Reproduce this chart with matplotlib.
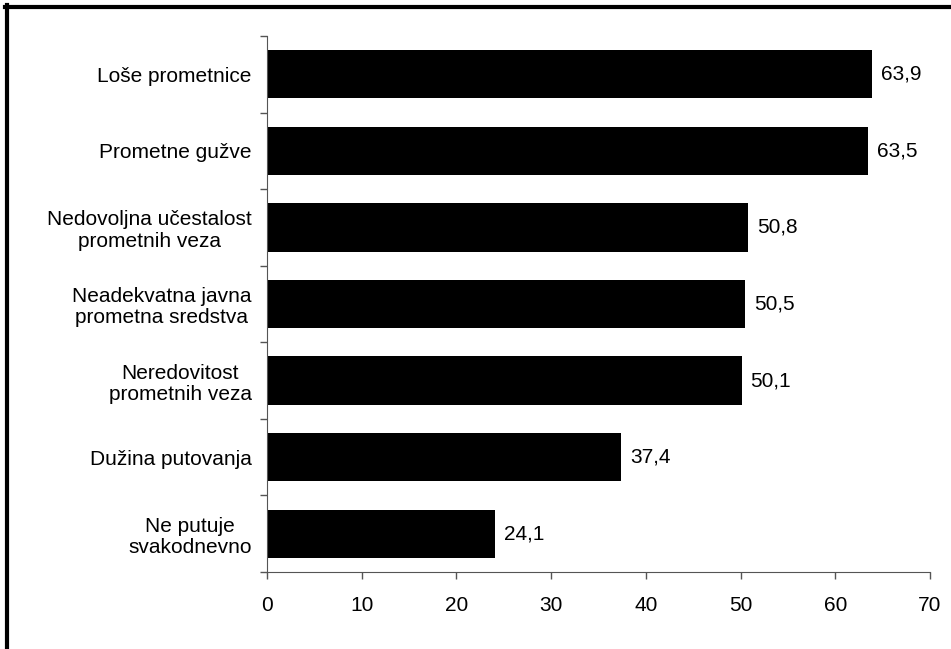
import matplotlib.pyplot as plt
from matplotlib.lines import Line2D

plt.rcParams['font.family'] = ['Liberation Sans', 'DejaVu Sans']

categories = ['Loše prometnice', 'Prometne gužve', 'Nedovoljna učestalost\nprometnih veza',
              'Neadekvatna javna\nprometna sredstva', 'Neredovitost\nprometnih veza',
              'Dužina putovanja', 'Ne putuje\nsvakodnevno']
values = [63.9, 63.5, 50.8, 50.5, 50.1, 37.4, 24.1]
value_labels = ['63,9', '63,5', '50,8', '50,5', '50,1', '37,4', '24,1']
x_ticks = [0, 10, 20, 30, 40, 50, 60, 70]

fig = plt.figure(figsize=(9.51, 6.49), dpi=100)
ax = fig.add_axes([267/951, 1 - 572/649, 663/951, 536/649])

n = len(categories)
pos = list(range(n))
ax.barh(pos, values, height=0.63, color='black')
ax.set_ylim(n - 0.5, -0.5)
ax.set_xlim(0, 70)

for p, v, lab in zip(pos, values, value_labels):
    ax.text(v + 0.9, p, lab, va='center', ha='left', fontsize=15)

ax.set_yticks(pos)
ax.set_yticklabels(categories, fontsize=15, linespacing=1.15)
for t in ax.get_yticklabels():
    t.set_multialignment('center')
ax.tick_params(axis='y', which='major', length=0, pad=11)
ax.set_yticks([i - 0.5 for i in range(n + 1)], minor=True)
ax.tick_params(axis='y', which='minor', length=5, width=1, color='#555555')

ax.set_xticks(x_ticks)
ax.set_xticklabels([str(x) for x in x_ticks], fontsize=15)
ax.tick_params(axis='x', length=5, width=1, color='#555555', pad=12.5)

for s in ['top', 'right']:
    ax.spines[s].set_visible(False)
ax.spines['left'].set_color('#555555')
ax.spines['bottom'].set_color('#555555')

# black frame on left and top of the picture
fig.add_artist(Line2D([7/951, 7/951], [0, 1 - 5/649], color='black', lw=3, transform=fig.transFigure))
fig.add_artist(Line2D([5/951, 1], [1 - 7/649, 1 - 7/649], color='black', lw=3, transform=fig.transFigure))

fig.savefig('out.png', dpi=100)
